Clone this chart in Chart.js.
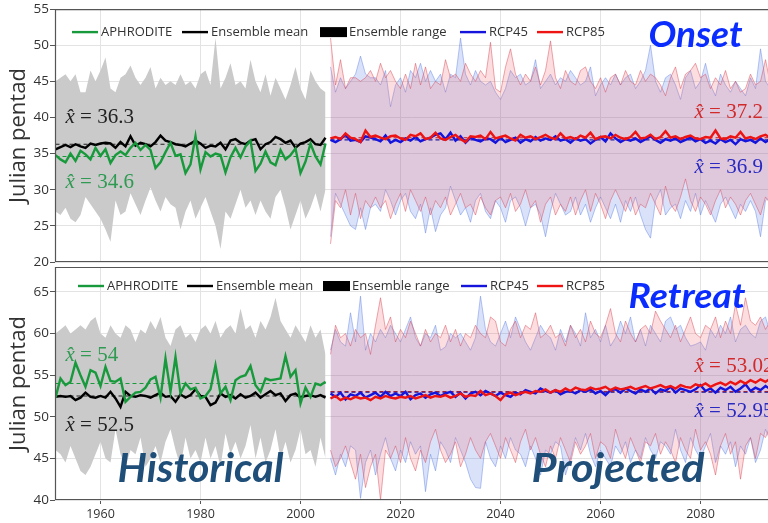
<!DOCTYPE html>
<html>
<head>
<meta charset="utf-8">
<script src="https://cdn.jsdelivr.net/npm/chart.js@4.4.0/dist/chart.umd.min.js"></script>
<style>
body { margin: 0; background: #fff; }
#wrap { position: relative; width: 768px; height: 523px; overflow: hidden; }
canvas { position: absolute; left: 0; }
</style>
</head>
<body>
<div id="wrap">
  <canvas id="onset" width="768" height="272" style="top:0"></canvas>
  <canvas id="retreat" width="768" height="268" style="top:255px"></canvas>
</div>
<script>
// years
const histYears = [];
for (let y = 1951; y <= 2005; y++) histYears.push(y);
const projYears = [];
for (let y = 2006; y <= 2094; y++) projYears.push(y);
const xTicks = [1960, 1980, 2000, 2020, 2040, 2060, 2080];
const onsetTicks = [20, 25, 30, 35, 40, 45, 50, 55];
const retreatTicks = [40, 45, 50, 55, 60, 65];

// ---- Onset panel ----
const onsetHistUpper = [
  45.0, 45.5, 46.0, 45.0, 46.0, 43.5, 43.5, 46.5, 45.0, 46.5,
  48.3, 44.0, 43.5, 45.5, 46.0, 47.2, 45.5, 44.5, 45.5, 47.0,
  44.0, 45.5, 44.5, 45.0, 44.5, 46.0, 44.5, 45.0, 44.0, 46.0,
  46.5, 44.5, 51.0, 44.0, 45.5, 47.5, 44.5, 45.0, 44.0, 48.0,
  45.0, 43.5, 46.0, 43.0, 45.5, 44.0, 42.5, 44.5, 47.0, 44.0,
  42.5, 46.5, 45.0, 44.0, 43.5];
const onsetHistLower = [
  27.0, 26.5, 27.5, 26.0, 25.5, 26.5, 29.0, 28.0, 27.0, 26.0,
  24.5, 22.8, 28.5, 26.5, 27.0, 29.5, 28.0, 26.5, 28.5, 30.3,
  28.5, 27.0, 29.0, 28.0, 27.5, 24.5, 27.0, 28.5, 26.0, 27.5,
  29.0, 27.0, 25.0, 21.8, 27.0, 26.0, 28.0, 30.0, 27.5, 28.5,
  26.5, 28.5, 27.0, 26.0, 29.0, 30.0, 27.5, 24.5, 26.5, 28.5,
  26.0, 27.5, 29.5, 27.0, 30.0];
const onsetEnsMean = [
  35.6, 35.9, 36.2, 35.9, 36.3, 36.0, 35.8, 36.4, 36.2, 36.4,
  36.5, 36.4, 35.8, 36.6, 36.0, 37.4, 36.1, 36.5, 36.3, 36.0,
  36.6, 37.5, 36.8, 36.6, 36.3, 36.2, 36.0, 36.4, 36.8, 36.4,
  35.8, 36.1, 36.0, 36.5, 35.6, 36.8, 37.0, 36.5, 36.3, 36.8,
  37.0, 35.6, 36.3, 36.6, 37.3, 37.0, 36.5, 36.8, 35.8, 36.4,
  36.6, 37.0, 36.3, 36.2, 37.2];
const onsetAphrodite = [
  34.8, 34.2, 33.8, 35.0, 34.0, 35.4, 34.9, 34.2, 35.8, 34.7,
  35.6, 33.7, 34.8, 35.3, 34.8, 35.8, 36.5, 35.5, 36.2, 35.5,
  33.0, 33.8, 35.2, 36.5, 34.7, 34.9, 32.3, 33.5, 37.4, 32.8,
  35.2, 34.6, 35.0, 34.8, 32.4, 34.5, 35.8, 34.5, 36.0, 36.8,
  32.6, 33.6, 35.3, 33.8, 33.4, 35.5, 34.2, 34.8, 35.7, 32.3,
  33.9, 36.4, 34.6, 33.5, 36.4];
const onsetRcp45Upper = [
  47.0, 43.5, 45.5, 44.0, 45.0, 46.0, 48.5, 46.0, 45.5, 45.5,
  44.5, 46.5, 41.5, 44.5, 45.5, 43.5, 46.5, 45.5, 47.5, 45.0,
  46.5, 45.0, 46.0, 43.5, 46.0, 45.5, 51.0, 46.0, 44.5, 46.5,
  45.0, 44.5, 45.0, 43.5, 42.5, 44.0, 46.5, 45.5, 46.0, 44.5,
  45.0, 48.0, 44.0, 45.0, 46.0, 44.5, 45.5, 45.0, 46.5, 45.5,
  44.5, 45.0, 47.0, 43.0, 44.5, 45.5, 44.5, 46.0, 44.5, 45.5,
  46.0, 44.0, 45.0, 46.5, 50.0, 45.0, 43.5, 45.5, 46.0, 44.5,
  42.5, 45.5, 46.5, 44.0, 45.0, 47.5, 44.5, 43.0, 46.0, 44.5,
  43.5, 45.0, 44.0, 43.0, 45.5, 44.0, 49.5, 45.0, 44.0];
const onsetRcp45Lower = [
  23.5, 29.5, 28.0, 26.5, 25.0, 24.5, 27.5, 24.5, 27.5, 28.0,
  27.0, 30.0, 28.5, 26.5, 28.5, 29.5, 27.0, 26.0, 28.0, 24.0,
  27.5, 24.2, 26.5, 27.5, 30.5, 28.5, 26.5, 27.5, 25.5, 28.5,
  29.5, 27.0, 26.0, 28.5, 27.5, 25.5, 28.5, 29.0, 27.5, 25.0,
  27.5, 28.0, 26.5, 23.5, 27.0, 29.5, 28.0, 26.5, 27.0, 29.0,
  26.5, 28.0, 25.5, 27.5, 29.0, 27.5, 26.0, 28.0, 25.5, 28.5,
  27.0, 29.0, 26.5, 24.5, 23.3, 28.5, 30.0, 26.5, 27.5, 28.0,
  26.0, 28.5, 27.0, 29.5, 26.5, 28.5, 27.0, 25.5, 28.0, 29.0,
  27.5, 26.0, 28.0, 27.0, 28.5, 27.0, 23.5, 28.5, 29.0];
const onsetRcp85Upper = [
  51.0, 44.5, 48.0, 44.0, 45.5, 45.5, 45.0, 45.5, 46.5, 45.0,
  47.5, 45.5, 46.5, 45.0, 44.0, 46.0, 44.0, 47.5, 44.5, 47.0,
  44.0, 45.0, 44.5, 48.0, 45.5, 46.0, 45.0, 47.5, 46.0, 45.0,
  46.5, 45.5, 50.4, 44.0, 43.5, 47.0, 49.5, 46.0, 44.5, 46.0,
  45.0, 47.0, 44.5, 46.5, 50.6, 45.5, 44.0, 46.5, 45.0, 44.5,
  46.5, 47.0, 45.0, 44.0, 45.5, 43.5, 45.5, 46.0, 44.5, 46.5,
  45.0, 44.5, 46.5, 45.0, 46.0, 45.5, 44.5, 43.0, 45.5, 47.0,
  44.0, 46.0, 46.5, 47.5, 45.5, 46.0, 44.0, 45.5, 44.5, 46.5,
  44.0, 45.0, 43.5, 44.0, 46.0, 44.5, 45.0, 48.0, 44.5];
const onsetRcp85Lower = [
  22.5, 28.5, 27.5, 30.0, 26.5, 29.5, 26.0, 28.5, 27.5, 29.0,
  27.5, 28.5, 26.0, 28.0, 29.5, 27.0, 30.0, 28.5, 27.0, 29.0,
  26.5, 28.5, 27.5, 29.0, 26.5, 28.0, 29.5, 27.5, 28.0, 26.5,
  29.0, 27.5, 26.5, 28.5, 29.0, 27.5, 29.5, 27.0, 28.0, 30.0,
  27.5, 28.5, 25.5, 28.0, 29.0, 26.5, 28.0, 27.0, 29.0, 26.5,
  28.5, 30.0, 27.0, 29.5, 28.0, 26.0, 28.5, 30.0, 28.5, 27.0,
  29.0, 26.5, 28.0, 27.5, 29.5, 28.0, 26.5, 30.5, 28.0, 27.0,
  29.0, 31.5, 28.5, 27.0, 29.0, 28.0, 26.5, 28.5, 30.0, 27.5,
  29.0, 28.0, 26.5, 28.5, 29.5, 28.0, 26.5, 29.0, 28.0];
const onsetRcp45Mean = [
  36.9, 36.6, 37.0, 37.6, 36.8, 36.9, 36.6, 37.4, 37.2, 37.0,
  36.7, 37.5, 36.5, 36.9, 36.6, 37.1, 36.8, 37.3, 36.7, 37.0,
  37.2, 37.6, 37.8, 37.0, 37.9, 36.8, 37.4, 36.5, 37.2, 36.9,
  36.7, 37.1, 37.0, 36.5, 37.2, 36.6, 36.9, 37.2, 36.5, 37.0,
  36.7, 37.3, 36.8, 37.1, 36.9, 37.4, 36.8, 37.0, 36.5, 37.1,
  36.8, 37.0, 36.4, 36.9, 37.3, 36.7, 37.8, 37.1, 36.6, 37.0,
  36.8, 37.1, 36.6, 37.0, 37.4, 36.9, 36.5, 37.0, 36.8, 37.1,
  36.6, 36.9, 37.2, 36.7, 37.0, 36.5, 36.8, 36.4, 37.0, 36.6,
  36.9, 36.3, 37.0, 36.7, 36.9, 36.5, 37.1, 36.6, 37.0];
const onsetRcp85Mean = [
  37.1, 37.3, 37.0, 37.8, 37.2, 37.0, 36.6, 38.2, 37.3, 37.5,
  37.2, 37.0, 37.4, 37.5, 37.1, 36.9, 37.6, 37.4, 37.8, 37.0,
  37.2, 37.9, 37.1, 36.9, 37.3, 37.6, 37.0, 36.6, 37.4, 37.3,
  37.5, 37.0, 38.0, 37.1, 37.3, 37.5, 37.1, 36.8, 37.6, 37.2,
  37.4, 37.0, 37.3, 37.6, 37.2, 37.0, 37.8, 37.1, 37.3, 37.0,
  37.5, 37.2, 37.9, 37.0, 37.3, 37.4, 37.1, 37.6, 37.2, 37.0,
  37.3, 38.0, 37.1, 37.2, 37.6, 37.0, 37.3, 38.1, 37.2, 37.4,
  37.0, 37.3, 37.5, 37.1, 37.0, 37.3, 37.2, 38.2, 37.1, 37.0,
  37.4, 37.2, 38.0, 37.1, 37.3, 37.0, 37.4, 37.6, 37.2];

// ---- Retreat panel ----
const retreatHistUpper = [
  60.0, 60.5, 61.0, 60.0, 60.5, 61.0, 60.5, 61.5, 62.0, 60.0,
  59.5, 61.0, 60.0, 59.5, 61.0, 60.5, 59.0, 60.5, 60.0, 61.5,
  60.5, 62.0, 59.5, 58.5, 60.5, 61.0, 59.5, 60.0, 59.0, 60.5,
  61.0, 60.0, 61.5, 59.5, 60.5, 61.0, 60.0, 63.0, 60.5, 61.0,
  59.5, 61.5, 60.5, 62.0, 64.3, 61.5, 60.5, 59.5, 61.0, 60.0,
  59.0, 61.0, 59.5, 60.5, 57.5];
const retreatHistLower = [
  46.0, 45.5, 44.5, 46.5, 45.0, 43.5, 43.0, 44.0, 45.5, 47.0,
  45.0, 44.5, 48.5, 45.5, 44.0, 46.0, 45.5, 47.5, 44.0, 45.0,
  46.5, 44.5, 47.0, 48.5, 46.0, 44.0, 47.5, 45.0, 46.0, 44.5,
  47.5, 45.0, 46.5, 44.0, 48.0, 45.5, 47.0, 45.0, 46.5, 49.0,
  45.0, 47.5, 44.5, 46.0, 48.5, 45.0, 47.0, 44.5, 46.0, 48.5,
  45.5, 46.0, 44.0, 47.5, 45.0];
const retreatEnsMean = [
  52.4, 52.5, 52.4, 52.5, 52.0, 52.3, 52.9, 52.4, 52.3, 52.5,
  52.3, 53.0, 52.2, 51.2, 53.0, 52.5, 52.4, 52.6, 52.5, 52.3,
  52.6, 52.9, 52.4, 52.5, 51.8, 52.7, 52.3, 52.6, 53.3, 52.5,
  52.4, 51.4, 51.7, 52.8, 52.4, 52.6, 52.2, 52.7, 52.3, 52.5,
  52.9, 52.3, 52.7, 53.1, 52.6, 52.8, 51.9, 52.6, 52.8, 52.3,
  52.5, 52.6, 52.4, 52.6, 52.3];
const retreatAphrodite = [
  52.3, 54.6, 53.8, 54.2, 56.5, 55.0, 53.6, 55.6, 55.3, 53.7,
  56.0, 54.3, 54.2, 54.6, 51.8, 52.4, 52.9, 53.0, 53.5, 54.5,
  54.8, 52.3, 57.0, 53.0, 57.2, 52.8, 54.0, 53.3, 53.5, 52.2,
  52.5, 53.3, 56.2, 52.8, 53.6, 52.0, 54.4, 54.8, 55.0, 56.1,
  53.8, 53.0, 54.6, 54.4, 54.5, 54.6, 57.3, 54.8, 55.6, 51.6,
  53.5, 52.4, 54.0, 53.8, 54.2];
const retreatRcp45Upper = [
  58.0, 60.5, 59.0, 58.5, 62.5, 59.0, 64.5, 58.0, 60.0, 59.0,
  60.5, 59.5, 61.0, 60.0, 59.0, 60.5, 62.0, 59.5, 58.5, 60.0,
  59.5, 61.0, 58.0, 58.4, 60.0, 59.5, 60.0, 59.0, 58.0, 59.5,
  64.5, 60.5, 59.0, 58.5, 60.0, 61.5, 59.5, 62.0, 60.5, 59.0,
  58.0, 59.5, 61.0, 60.0, 59.5, 58.0, 60.5, 59.0, 61.0, 60.0,
  58.5, 62.5, 59.5, 60.5, 59.0, 61.0, 58.5, 59.5, 61.5, 60.0,
  62.0, 59.0, 60.5, 58.5, 61.0, 60.0, 59.0, 61.5, 62.0, 60.5,
  61.0, 59.5, 58.5, 58.7, 59.0, 58.0, 60.5, 59.5, 61.0, 60.0,
  62.0, 59.0, 60.5, 61.0, 60.0, 59.5, 61.5, 62.0, 60.0];
const retreatRcp45Lower = [
  45.0, 43.0, 45.5, 44.0, 46.5, 46.0, 40.2, 44.5, 46.0, 43.0,
  45.5, 47.5, 45.0, 43.5, 46.0, 44.5, 47.0, 45.5, 46.5, 41.0,
  45.5, 43.5, 47.0, 46.0, 44.5, 47.5, 46.0, 44.5, 42.5, 41.5,
  41.4, 47.0, 45.0, 44.0, 46.5, 45.0, 47.5, 46.0, 45.5, 44.0,
  46.5, 45.0, 43.0, 46.0, 45.5, 47.0, 46.5, 43.0, 45.0, 47.5,
  46.0, 48.0, 45.5, 44.0, 46.0, 45.0, 44.0, 46.5, 45.5, 47.0,
  44.5, 46.0, 45.0, 47.5, 46.0, 45.0, 47.0, 46.5, 45.5, 48.5,
  46.0, 44.5, 47.5, 46.0, 45.0, 46.5, 48.0, 44.5, 46.5, 45.5,
  47.0, 44.0, 46.5, 45.5, 47.5, 44.5, 46.0, 48.5, 47.0];
const retreatRcp85Upper = [
  57.5, 61.0, 59.5, 60.0, 58.5, 60.5, 59.5, 60.0, 57.5, 61.0,
  64.3, 60.5, 62.0, 59.0, 60.5, 59.5, 61.5, 60.0, 58.5, 60.5,
  59.0, 60.0, 59.5, 61.0, 59.0, 60.5, 58.5, 60.0, 59.5, 61.0,
  60.0, 59.5, 62.0, 61.5, 59.0, 58.5, 60.5, 61.5, 59.5, 61.0,
  60.5, 62.5, 59.5, 60.0, 61.0, 59.5, 60.0, 58.5, 61.0, 59.5,
  60.5, 59.0, 61.5, 60.0, 59.5, 61.0, 63.0, 60.0, 59.0, 61.5,
  60.0, 59.0, 60.5, 61.0, 60.0, 62.7, 61.5, 60.5, 59.5, 61.0,
  59.0, 60.5, 62.0, 60.0, 59.5, 61.0, 60.5, 62.0, 59.5, 61.5,
  60.0, 63.5, 61.0, 64.3, 61.5, 61.0, 62.0, 60.5, 61.5];
const retreatRcp85Lower = [
  46.0, 44.0, 45.0, 46.5, 44.5, 42.5, 45.5, 41.5, 44.0, 45.5,
  40.0, 46.0, 45.0, 46.5, 44.5, 47.5, 45.0, 43.5, 46.0, 44.5,
  47.0, 48.5, 46.0, 44.5, 45.5, 47.0, 44.0, 45.5, 47.5, 46.0,
  45.0, 47.0, 48.0, 46.5, 45.0, 47.5, 46.0, 44.5, 47.0, 48.5,
  46.0, 47.5, 45.5, 44.0, 46.5, 45.0, 47.5, 46.0, 44.5, 47.0,
  45.5, 46.5, 48.0, 45.0, 47.0, 46.5, 45.0, 48.5, 46.5, 45.0,
  47.5, 46.0, 44.5, 47.0, 46.5, 48.0, 45.5, 47.0, 46.0, 44.5,
  47.5, 46.0, 45.0, 48.5, 46.0, 47.0, 45.5, 43.0, 46.5, 48.0,
  45.5, 47.0, 42.5, 46.5, 47.5, 45.0, 48.0, 47.5, 49.0];
const retreatRcp45Mean = [
  52.8, 52.4, 52.9, 52.1, 52.7, 52.5, 52.9, 52.3, 52.6, 52.9,
  52.4, 53.0, 52.5, 52.8, 52.5, 53.0, 52.1, 52.6, 52.8, 52.3,
  52.7, 52.9, 52.5, 52.8, 53.0, 52.4, 52.9, 52.2, 52.8, 53.0,
  52.6, 53.1, 52.8, 52.5, 52.9, 52.6, 52.4, 52.9, 52.7, 53.2,
  53.0, 52.8, 53.4, 53.1, 52.9, 53.2, 52.7, 53.0, 53.1, 52.8,
  53.2, 53.0, 53.3, 52.8, 53.1, 52.6, 53.2, 53.3, 52.9, 53.4,
  53.1, 52.8, 53.3, 53.0, 53.4, 52.8, 53.3, 53.1, 53.6, 52.9,
  53.4, 53.2, 53.0, 53.3, 53.8, 53.1, 53.4, 52.9, 53.5, 53.2,
  53.6, 53.0, 53.4, 53.9, 53.1, 53.5, 53.2, 53.7, 53.3];
const retreatRcp85Mean = [
  52.2, 52.5, 52.0, 52.3, 52.1, 52.4, 52.2, 52.3, 52.0, 52.4,
  52.2, 52.5, 52.3, 52.2, 52.4, 52.3, 52.5, 52.2, 52.4, 52.6,
  52.3, 52.5, 52.4, 52.6, 52.3, 52.5, 52.8, 52.4, 52.6, 52.5,
  53.1, 52.6, 52.8, 52.5, 52.0, 52.7, 52.9, 52.6, 52.8, 53.0,
  52.8, 53.1, 53.0, 53.3, 52.9, 53.2, 53.0, 53.4, 53.1, 53.5,
  53.3, 53.2, 53.5, 53.3, 53.4, 53.6, 53.2, 53.5, 53.3, 53.4,
  53.6, 53.3, 53.5, 53.7, 53.4, 53.6, 53.8, 53.5, 53.7, 53.4,
  53.8, 53.6, 53.5, 53.9, 53.7, 54.0, 53.6, 53.9, 54.1, 53.8,
  54.2, 53.9, 54.3, 54.0, 54.4, 54.1, 54.5, 54.2, 54.6];

// long-term means (dashed lines and labels)
const onsetMeanValues = [34.6, 36.3, 36.9, 37.2];
const onsetMeanLabels = ['34.6', '36.3', '36.9', '37.2'];
const retreatMeanValues = [54, 52.5, 52.95, 53.02];
const retreatMeanLabels = ['54', '52.5', '52.95', '53.02'];

const legendLabels = ['APHRODITE', 'Ensemble mean', 'Ensemble range', 'RCP45', 'RCP85'];

const GREEN = '#189a3c', BLUE = '#1414dc', RED = '#ee1414';
const UI_FONT = '"Open Sans"';

const pts = (years, vals) => vals.map((v, i) => ({ x: years[i], y: v }));
const flat = (x0, x1, v) => [{ x: x0, y: v }, { x: x1, y: v }];

function datasets(p) {
  const thin = { pointRadius: 0, tension: 0 };
  return [
    { ...thin, data: pts(histYears, p.histUpper), fill: '+1', backgroundColor: 'rgb(202,202,202)', borderWidth: 0, order: 10 },
    { ...thin, data: pts(histYears, p.histLower), fill: false, borderWidth: 0, order: 10 },
    { ...thin, data: pts(projYears, p.r45Upper), fill: '+1', backgroundColor: 'rgba(70,110,230,0.2)', borderColor: 'rgba(90,125,225,0.55)', borderWidth: 0.8, order: 9 },
    { ...thin, data: pts(projYears, p.r45Lower), fill: false, borderColor: 'rgba(90,125,225,0.55)', borderWidth: 0.8, order: 9 },
    { ...thin, data: pts(projYears, p.r85Upper), fill: '+1', backgroundColor: 'rgba(240,90,100,0.2)', borderColor: 'rgba(215,70,85,0.6)', borderWidth: 0.8, order: 8 },
    { ...thin, data: pts(projYears, p.r85Lower), fill: false, borderColor: 'rgba(215,70,85,0.6)', borderWidth: 0.8, order: 8 },
    { ...thin, data: flat(1951, 2005, p.means[0]), borderColor: GREEN, borderWidth: 1.1, borderDash: [4, 3], order: 6 },
    { ...thin, data: flat(1951, 2005, p.means[1]), borderColor: '#222', borderWidth: 1.1, borderDash: [4, 3], order: 6 },
    { ...thin, data: flat(2006, 2100, p.means[2]), borderColor: '#2020a0', borderWidth: 1.1, borderDash: [4, 3], order: 6 },
    { ...thin, data: flat(2006, 2100, p.means[3]), borderColor: '#c02020', borderWidth: 1.1, borderDash: [4, 3], order: 6 },
    { ...thin, data: pts(histYears, p.ens), borderColor: '#000', borderWidth: 2.4, order: 5 },
    { ...thin, data: pts(histYears, p.aphro), borderColor: GREEN, borderWidth: 2.4, order: 4 },
    { ...thin, data: pts(projYears, p.r45Mean), borderColor: BLUE, borderWidth: 2.4, order: 3 },
    { ...thin, data: pts(projYears, p.r85Mean), borderColor: RED, borderWidth: 2.4, order: 2 }
  ];
}

function drawHat(ctx, px, py, label, color) {
  ctx.fillStyle = color;
  ctx.textBaseline = 'middle';
  ctx.textAlign = 'left';
  ctx.font = 'italic 21px "Liberation Serif"';
  ctx.fillText('x\u0302', px, py);
  const w = ctx.measureText('x').width;
  ctx.font = '21px "Liberation Serif"';
  ctx.fillText(' = ' + label, px + w, py);
}

function drawBig(ctx, text, left, right, base, size, color) {
  ctx.font = 'italic bold ' + size + 'px Lato';
  const w = ctx.measureText(text).width;
  ctx.save();
  ctx.translate(left, base);
  ctx.scale((right - left) / w, 1);
  ctx.fillStyle = color;
  ctx.textBaseline = 'alphabetic';
  ctx.textAlign = 'left';
  ctx.fillText(text, 0, 0);
  ctx.restore();
}

const decor = {
  id: 'decor',
  afterDatasetsDraw(chart, args, o) {
    const { ctx, chartArea: a, scales: { x, y } } = chart;
    ctx.save();
    // frame
    ctx.strokeStyle = '#555';
    ctx.lineWidth = 1.2;
    ctx.beginPath();
    ctx.moveTo(a.right, a.top + 0.5);
    ctx.lineTo(a.left + 0.5, a.top + 0.5);
    ctx.lineTo(a.left + 0.5, a.bottom - 0.5);
    ctx.lineTo(a.right, a.bottom - 0.5);
    ctx.stroke();

    // mean labels
    o.hats.forEach(h => drawHat(ctx, x.getPixelForValue(h.x), y.getPixelForValue(h.y), h.label, h.color));

    // legend
    ctx.font = '13px ' + UI_FONT;
    ctx.textBaseline = 'middle';
    ctx.textAlign = 'left';
    const cy = a.top + o.legendDy;
    const colors = [GREEN, '#000', '#000', BLUE, RED];
    legendLabels.forEach((lab, i) => {
      const lx = o.legendX[i];
      if (i === 2) {
        ctx.fillStyle = '#000';
        ctx.fillRect(lx, cy - 5, 27, 10);
      } else {
        ctx.strokeStyle = colors[i];
        ctx.lineWidth = 2.4;
        ctx.beginPath();
        ctx.moveTo(lx, cy);
        ctx.lineTo(lx + 26, cy);
        ctx.stroke();
      }
      ctx.fillStyle = '#333';
      ctx.fillText(lab, lx + 29, cy + 0.5);
    });

    // big titles
    o.titles.forEach(t => drawBig(ctx, t.text, x.getPixelForValue(t.x0), x.getPixelForValue(t.x1),
      y.getPixelForValue(t.base), t.size, t.color));
    ctx.restore();
  }
};

function makePanel(id, p) {
  new Chart(document.getElementById(id), {
    type: 'line',
    data: { datasets: datasets(p) },
    plugins: [decor],
    options: {
      responsive: false,
      animation: false,
      devicePixelRatio: 1,
      layout: { padding: { top: p.padTop, right: 0, left: 0, bottom: 0 } },
      plugins: {
        legend: { display: false },
        tooltip: { enabled: false },
        decor: { hats: p.hats, legendX: p.legendX, legendDy: p.legendDy, titles: p.titles }
      },
      scales: {
        x: {
          type: 'linear',
          min: 1950.9,
          max: 2093.5,
          afterBuildTicks: s => { s.ticks = xTicks.map(v => ({ value: v })); },
          afterFit: s => { s.height = p.xHeight; },
          border: { display: false },
          grid: { color: '#e3e3e3', drawTicks: p.showX, tickLength: 4, tickColor: '#555' },
          ticks: {
            display: p.showX,
            color: '#333',
            padding: 3,
            maxRotation: 0,
            font: { family: 'Open Sans', size: 12.5 },
            callback: v => String(v)
          }
        },
        y: {
          min: p.yMin,
          max: p.yMax,
          afterBuildTicks: s => { s.ticks = p.yTicks.map(v => ({ value: v })); },
          afterFit: s => { s.width = 55; },
          border: { display: false },
          grid: { color: '#e3e3e3', tickLength: 5, tickColor: '#555' },
          ticks: { color: '#333', padding: 1, font: { family: 'Open Sans', size: 13.5 } },
          title: {
            display: true,
            text: 'Julian pentad',
            color: '#333',
            padding: { top: 6, bottom: 0 },
            font: { family: 'Open Sans', size: 22 }
          }
        }
      }
    }
  });
}

makePanel('onset', {
  histUpper: onsetHistUpper, histLower: onsetHistLower, ens: onsetEnsMean, aphro: onsetAphrodite,
  r45Upper: onsetRcp45Upper, r45Lower: onsetRcp45Lower, r85Upper: onsetRcp85Upper, r85Lower: onsetRcp85Lower,
  r45Mean: onsetRcp45Mean, r85Mean: onsetRcp85Mean,
  means: onsetMeanValues,
  yMin: 20, yMax: 55, yTicks: onsetTicks,
  padTop: 8, xHeight: 10, showX: false,
  legendX: [72, 182, 320, 460, 537], legendDy: 23,
  hats: [
    { x: 1953, y: 40, label: onsetMeanLabels[1], color: '#222' },
    { x: 1953, y: 31, label: onsetMeanLabels[0], color: '#2f9a52' },
    { x: 2078.8, y: 40.7, label: onsetMeanLabels[3], color: '#d02a2a' },
    { x: 2078.8, y: 33.1, label: onsetMeanLabels[2], color: '#2a2ac0' }
  ],
  titles: [
    { text: 'Onset', x0: 2069.6, x1: 2088.4, base: 49.8, size: 36, color: '#0a2cff' }
  ]
});

makePanel('retreat', {
  histUpper: retreatHistUpper, histLower: retreatHistLower, ens: retreatEnsMean, aphro: retreatAphrodite,
  r45Upper: retreatRcp45Upper, r45Lower: retreatRcp45Lower, r85Upper: retreatRcp85Upper, r85Lower: retreatRcp85Lower,
  r45Mean: retreatRcp45Mean, r85Mean: retreatRcp85Mean,
  means: retreatMeanValues,
  yMin: 40, yMax: 68, yTicks: retreatTicks,
  padTop: 12, xHeight: 23, showX: true,
  legendX: [78, 187, 323, 461, 537], legendDy: 19,
  hats: [
    { x: 1953, y: 57.4, label: retreatMeanLabels[0], color: '#2f9a52' },
    { x: 1953, y: 49, label: retreatMeanLabels[1], color: '#222' },
    { x: 2078.8, y: 56, label: retreatMeanLabels[3], color: '#d02a2a' },
    { x: 2078.8, y: 50.6, label: retreatMeanLabels[2], color: '#2a2ac0' }
  ],
  titles: [
    { text: 'Retreat', x0: 2065.6, x1: 2089, base: 63.1, size: 34, color: '#0a2cff' },
    { text: 'Historical', x0: 1963.4, x1: 1996.6, base: 42.2, size: 41, color: '#1f4e79' },
    { text: 'Projected', x0: 2046.2, x1: 2080.8, base: 42.2, size: 40, color: '#1f4e79' }
  ]
});
</script>
</body>
</html>
